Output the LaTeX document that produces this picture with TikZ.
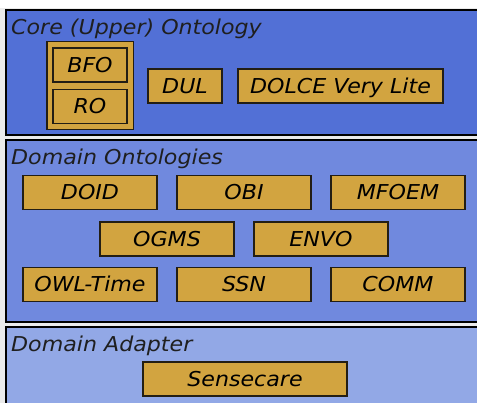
\documentclass[tikz,border=0pt]{standalone}
\usepackage{fontspec}
\setmainfont{DejaVu Sans}[FakeStretch=1.08]
\usetikzlibrary{positioning,fit,backgrounds}
\definecolor{coreblue}{RGB}{82,112,214}
\definecolor{domainblue}{RGB}{112,137,222}
\definecolor{adapterblue}{RGB}{146,168,230}
\definecolor{ontogold}{RGB}{210,164,64}
\definecolor{ontoedge}{RGB}{35,30,20}
\tikzset{
  panneau/.style={draw=black, line width=1.6pt},
  titre/.style={anchor=base west, inner sep=0pt, font=\fontsize{20.5}{24}\selectfont\itshape, text=black!88},
  onto/.style={draw=ontoedge, fill=ontogold, line width=1.3pt, inner sep=0pt,
    font=\fontsize{20.5}{24}\selectfont\itshape, text height=15pt, text depth=0pt,
    minimum height=34pt, minimum width=#1},
  onto/.default=134pt,
  groupe/.style={draw=ontoedge, fill=ontogold, line width=1.3pt, inner sep=5.5pt},
}
\begin{document}
\begin{tikzpicture}[x=1pt, y=-1pt]
    \useasboundingbox (0,0) rectangle (477,403);
    \clip (0,0) rectangle (477,403);
    % Couches
    \begin{scope}[on background layer]
      \fill[black!8] (0,0) rectangle (477,403);
      \fill[white] (0,0) rectangle (477,8);
      \draw[panneau, fill=coreblue]    (6,10)  rectangle (482,135);
      \draw[panneau, fill=domainblue]  (6,140) rectangle (482,322);
      \draw[panneau, fill=adapterblue] (6,327) rectangle (482,410);
    \end{scope}
    \node[titre] (tcore)    at (11,35)  {Core (Upper) Ontology};
    \node[titre] (tdomain)  at (11,165) {Domain Ontologies};
    \node[titre] (tadapter) at (11,352) {Domain Adapter};
    % Noyau
    \node[onto=74pt] (bfo)   at (90,65)     {BFO};
    \node[onto=74pt] (ro)    at (90,106.5)  {RO};
    \node[onto=74pt] (dul)   at (185,86)    {DUL};
    \node[onto=205pt] (dolce) at (340.5,86) {DOLCE Very Lite};
    \begin{scope}[on background layer]
      \node[groupe, fit=(bfo)(ro)] (bforo) {};
    \end{scope}
    % Domaine
    \node[onto] (doid)  at (90,192.5)  {DOID};
    \node[onto] (obi)   at (244,192.5) {OBI};
    \node[onto] (mfoem) at (398,192.5) {MFOEM};
    \node[onto] (ogms)  at (167,239)   {OGMS};
    \node[onto] (envo)  at (321,239)   {ENVO};
    \node[onto] (owlt)  at (90,284.5)  {OWL-Time};
    \node[onto] (ssn)   at (244,284.5) {SSN};
    \node[onto] (comm)  at (398,284.5) {COMM};
    % Adaptateur
    \node[onto=204pt] (sensecare) at (245,379) {Sensecare};
  \end{tikzpicture}
\end{document}
